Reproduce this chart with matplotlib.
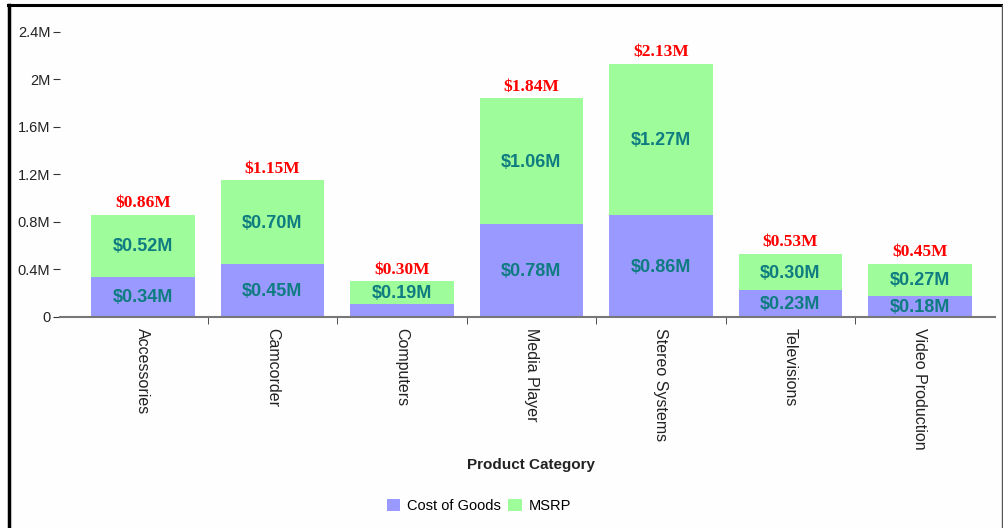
import numpy as np
import matplotlib.pyplot as plt
from matplotlib.lines import Line2D
from matplotlib.patches import Patch
from matplotlib.ticker import FuncFormatter

# data (millions)
categories = ['Accessories', 'Camcorder', 'Computers', 'Media Player',
              'Stereo Systems', 'Televisions', 'Video Production']
cost_of_goods = [0.34, 0.45, 0.11, 0.78, 0.86, 0.23, 0.18]
msrp = [0.52, 0.70, 0.19, 1.06, 1.27, 0.30, 0.27]
totals = [0.86, 1.15, 0.30, 1.84, 2.13, 0.53, 0.45]
y_ticks = [0, 0.4, 0.8, 1.2, 1.6, 2.0, 2.4]

cost_color = '#9999ff'
msrp_color = '#9ffc9b'
label_color = '#0e7c80'


def fmt_m(v, pos=None):
    if v == 0:
        return '0'
    return '{:g}M'.format(round(v, 1))


def main():
    plt.rcParams['font.family'] = ['Liberation Sans', 'DejaVu Sans']
    fig = plt.figure(figsize=(10.04, 5.28), dpi=100)
    fig.patch.set_facecolor('#fdfefd')
    W, H = 1004, 528
    ax = fig.add_axes([60 / W, 1 - 317 / H, 935 / W, (317 - 20) / H])
    ax.set_facecolor('#fdfefd')

    x = np.arange(len(categories))
    width = 0.8
    ax.bar(x, cost_of_goods, width, color=cost_color, zorder=2)
    ax.bar(x, msrp, width, bottom=cost_of_goods, color=msrp_color, zorder=2)

    # segment labels
    for i in range(len(categories)):
        if cost_of_goods[i] >= 0.15:
            ax.text(x[i], cost_of_goods[i] / 2 - 0.01, '$%.2fM' % cost_of_goods[i],
                    ha='center', va='center', color=label_color,
                    fontsize=13, fontweight='bold')
        ax.text(x[i], cost_of_goods[i] + msrp[i] / 2 - 0.01, '$%.2fM' % msrp[i],
                ha='center', va='center', color=label_color,
                fontsize=13, fontweight='bold')
        ax.text(x[i], totals[i] + 0.03, '$%.2fM' % totals[i],
                ha='center', va='bottom', color='#ff0000',
                fontsize=12.5, fontweight='bold', family='Liberation Serif')

    ax.set_xlim(-0.64, 6.58)
    ax.set_ylim(0, 2.5)
    ax.set_yticks(y_ticks)
    ax.yaxis.set_major_formatter(FuncFormatter(fmt_m))
    ax.set_xticks(x)
    ax.set_xticklabels(categories, rotation=-90, fontsize=11.5, color='#222222')
    ax.set_xticks(x[:-1] + 0.5, minor=True)
    ax.tick_params(axis='x', which='major', length=0, pad=8)
    ax.tick_params(axis='x', which='minor', length=5, color='#333333', direction='out')
    ax.tick_params(axis='y', length=5, color='#333333', labelsize=10.5,
                   labelcolor='#222222', pad=2)

    for s in ['top', 'right', 'left']:
        ax.spines[s].set_visible(False)
    ax.spines['bottom'].set_color('#777777')
    ax.spines['bottom'].set_linewidth(1.5)

    fig.text(531 / W, 1 - 465 / H, 'Product Category', ha='center', va='center',
             fontsize=11, fontweight='bold', color='#222222')

    handles = [Patch(facecolor=cost_color, label='Cost of Goods'),
               Patch(facecolor=msrp_color, label='MSRP')]
    fig.legend(handles=handles, loc='center', bbox_to_anchor=(479 / W, 1 - 506 / H),
               ncol=2, frameon=False, fontsize=10.5, handlelength=0.9,
               handleheight=0.9, handletextpad=0.5, columnspacing=0.5)

    # outer frame
    fig.add_artist(Line2D([9 / W, 9 / W], [0, 1 - 5 / H], color='black', lw=2.5,
                          transform=fig.transFigure))
    fig.add_artist(Line2D([8 / W, 1002 / W], [1 - 5 / H, 1 - 5 / H], color='black',
                          lw=2.2, transform=fig.transFigure))
    fig.add_artist(Line2D([1002 / W, 1002 / W], [0, 1 - 5 / H], color='#555555',
                          lw=1, transform=fig.transFigure))

    fig.savefig('out.png', dpi=100, facecolor=fig.get_facecolor())


if __name__ == "__main__":
    main()
